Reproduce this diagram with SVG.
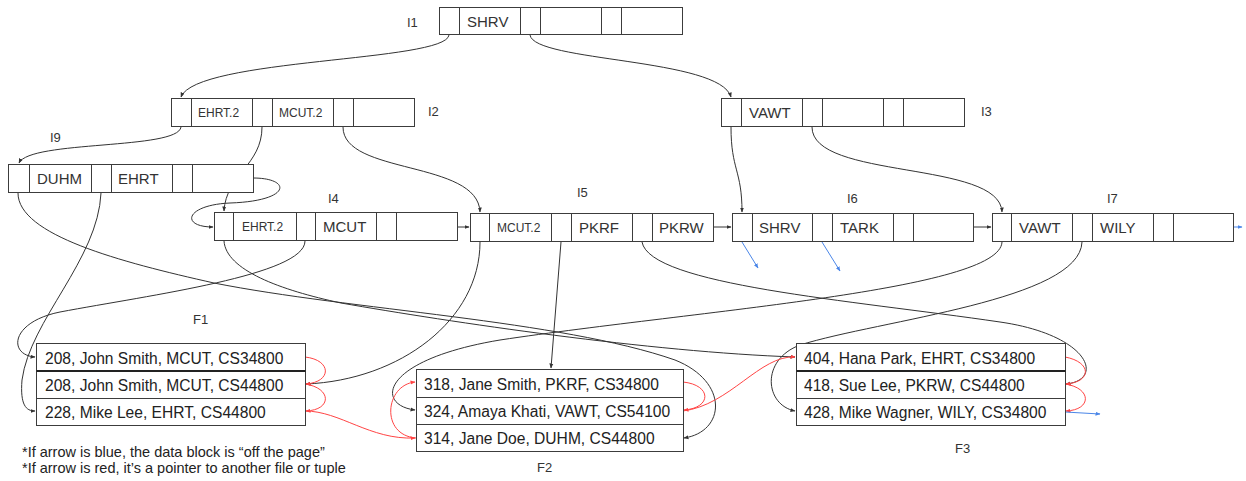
<svg xmlns="http://www.w3.org/2000/svg" width="1246" height="481" viewBox="0 0 1246 481">
<style>
.box{fill:#fff;stroke:#3c3c3c;stroke-width:1}
.div{stroke:#3c3c3c;stroke-width:1}
.thick{stroke:#222;stroke-width:2}
.k{font-family:"Liberation Sans",Arial,sans-serif;font-size:15px;fill:#333}
.ks{font-family:"Liberation Sans",Arial,sans-serif;font-size:12px;fill:#333}
.lbl{font-family:"Liberation Sans",Arial,sans-serif;font-size:13px;fill:#333}
.rec{font-family:"Liberation Sans",Arial,sans-serif;font-size:15.6px;fill:#222}
.note{font-family:"Liberation Sans",Arial,sans-serif;font-size:14.5px;fill:#222}
.c{fill:none;stroke:#333;stroke-width:1;marker-end:url(#ab)}
.r{fill:none;stroke:#f44;stroke-width:1;marker-end:url(#ar)}
.b{fill:none;stroke:#4a86e8;stroke-width:1;marker-end:url(#abl)}
</style>
<defs>
<marker id="ab" viewBox="0 0 10 10" refX="9" refY="5" markerWidth="5" markerHeight="5" markerUnits="userSpaceOnUse" orient="auto"><path d="M0,1 L10,5 L0,9 z" fill="#333"/></marker>
<marker id="ar" viewBox="0 0 10 10" refX="9" refY="5" markerWidth="5" markerHeight="5" markerUnits="userSpaceOnUse" orient="auto"><path d="M0,1 L10,5 L0,9 z" fill="#f44"/></marker>
<marker id="abl" viewBox="0 0 10 10" refX="9" refY="5" markerWidth="5" markerHeight="5" markerUnits="userSpaceOnUse" orient="auto"><path d="M0,1 L10,5 L0,9 z" fill="#4a86e8"/></marker>
</defs>
<rect width="1246" height="481" fill="#fff"/>

<g id="connectors">
<path class="c" d="M449,35 C446,62 196,58 181,97"/>
<path class="c" d="M530,35 C534,62 720,58 731,97"/>
<path class="c" d="M181,127 C178,150 30,140 19,163"/>
<path class="c" d="M262,127 C262,165 226,175 224,211"/>
<path class="c" d="M343,127 C343,175 478,160 480,212"/>
<path class="c" d="M731,127 C731,170 742,170 742,212"/>
<path class="c" d="M812,127 C812,180 1000,160 1002,212"/>
<path class="c" d="M253,178 C292,178 292,201 230,203 C185,205 180,227 213,227"/>
<path class="c" d="M457,227 L469,227"/>
<path class="c" d="M713,227 L731,227"/>
<path class="c" d="M973,227 L991,227"/>
<path class="b" d="M1233,227 L1242,227"/>
<path class="c" d="M18,193 C18,235 120,262 214,283 C350,310 560,320 675,360 C730,382 725,432 684,438"/>
<path class="c" d="M101,193 C98,260 30,320 22,380 C20,405 26,411 35,411"/>
<path class="c" d="M224,241 C226,270 280,290 341,303 C450,322 650,352 795,357"/>
<path class="c" d="M305,241 C305,275 150,295 60,312 C10,322 8,355 35,357"/>
<path class="c" d="M480,242 C480,320 400,380 306,384"/>
<path class="c" d="M561,242 L551,368"/>
<path class="c" d="M642,242 C650,285 850,300 1000,322 C1090,335 1105,380 1066,384"/>
<path class="c" d="M1002,242 C1000,290 700,310 500,340 C380,360 375,405 415,410"/>
<path class="c" d="M1082,242 C1080,300 880,320 800,345 C760,360 765,405 795,411"/>
<path class="b" d="M742,242 L758,268"/>
<path class="b" d="M822,242 L840,271"/>
<path class="r" d="M305,357 C332,360 332,382 306,384"/>
<path class="r" d="M305,384 C332,388 332,410 306,411"/>
<path class="r" d="M305,411 C340,411 370,440 415,438"/>
<path class="r" d="M416,438 C380,435 385,385 415,382"/>
<path class="r" d="M683,382 C712,385 712,408 684,410"/>
<path class="r" d="M683,411 C730,405 760,355 795,357"/>
<path class="r" d="M1065,357 C1092,362 1092,382 1066,384"/>
<path class="r" d="M1065,384 C1092,388 1092,410 1066,411"/>
<path class="b" d="M1065,412 L1100,414"/>
</g>

<g id="I1">
<rect class="box" x="439.5" y="7.5" width="243" height="27"/>
<path class="div" d="M459.5,7.5V34.5M520.5,7.5V34.5M540.5,7.5V34.5M601.5,7.5V34.5M621.5,7.5V34.5"/>
<text class="k" x="467" y="27">SHRV</text>
<text class="lbl" x="407" y="27">I1</text>
</g>
<g id="I2">
<rect class="box" x="171.5" y="98.5" width="243" height="28"/>
<path class="div" d="M191.5,98.5V126.5M252.5,98.5V126.5M272.5,98.5V126.5M333.5,98.5V126.5M353.5,98.5V126.5"/>
<text class="ks" x="198" y="117">EHRT.2</text>
<text class="ks" x="279" y="117">MCUT.2</text>
<text class="lbl" x="428" y="116">I2</text>
</g>
<g id="I3">
<rect class="box" x="721.5" y="98.5" width="243" height="28"/>
<path class="div" d="M741.5,98.5V126.5M802.5,98.5V126.5M822.5,98.5V126.5M883.5,98.5V126.5M903.5,98.5V126.5"/>
<text class="k" x="749" y="118">VAWT</text>
<text class="lbl" x="981" y="116">I3</text>
</g>
<g id="I9">
<rect class="box" x="8.5" y="164.5" width="245" height="28"/>
<path class="div" d="M29.5,164.5V192.5M91.5,164.5V192.5M111.5,164.5V192.5M172.5,164.5V192.5M192.5,164.5V192.5"/>
<text class="k" x="37" y="184">DUHM</text>
<text class="k" x="118" y="184">EHRT</text>
<text class="lbl" x="50" y="142">I9</text>
</g>
<g id="I4">
<rect class="box" x="214.5" y="212.5" width="243" height="28"/>
<path class="div" d="M233.5,212.5V240.5M296.5,212.5V240.5M315.5,212.5V240.5M376.5,212.5V240.5M396.5,212.5V240.5"/>
<text class="ks" x="242" y="231">EHRT.2</text>
<text class="k" x="323" y="232">MCUT</text>
<text class="lbl" x="328" y="203">I4</text>
</g>
<g id="I5">
<rect class="box" x="470.5" y="213.5" width="243" height="28"/>
<path class="div" d="M489.5,213.5V241.5M551.5,213.5V241.5M571.5,213.5V241.5M632.5,213.5V241.5M652.5,213.5V241.5"/>
<text class="ks" x="497" y="232">MCUT.2</text>
<text class="k" x="579" y="233">PKRF</text>
<text class="k" x="659" y="233">PKRW</text>
<text class="lbl" x="577" y="197">I5</text>
</g>
<g id="I6">
<rect class="box" x="732.5" y="213.5" width="241" height="28"/>
<path class="div" d="M752.5,213.5V241.5M812.5,213.5V241.5M832.5,213.5V241.5M893.5,213.5V241.5M913.5,213.5V241.5"/>
<text class="k" x="759" y="233">SHRV</text>
<text class="k" x="840" y="233">TARK</text>
<text class="lbl" x="847" y="203">I6</text>
</g>
<g id="I7">
<rect class="box" x="992.5" y="213.5" width="241" height="28"/>
<path class="div" d="M1011.5,213.5V241.5M1072.5,213.5V241.5M1092.5,213.5V241.5M1153.5,213.5V241.5M1173.5,213.5V241.5"/>
<text class="k" x="1019" y="233">VAWT</text>
<text class="k" x="1100" y="233">WILY</text>
<text class="lbl" x="1107" y="203">I7</text>
</g>

<g id="F1">
<rect class="box" x="36.5" y="343.5" width="269" height="82"/>
<path class="thick" d="M36.5,371H305.5"/>
<path class="div" d="M36.5,398.5H305.5"/>
<text class="rec" x="45" y="364">208, John Smith, MCUT, CS34800</text>
<text class="rec" x="45" y="391">208, John Smith, MCUT, CS44800</text>
<text class="rec" x="45" y="418">228, Mike Lee, EHRT, CS44800</text>
<text class="lbl" x="193" y="324">F1</text>
</g>
<g id="F2">
<rect class="box" x="416.5" y="369.5" width="267" height="82"/>
<path class="div" d="M416.5,397.5H683.5M416.5,424.5H683.5"/>
<text class="rec" x="424" y="390">318, Jane Smith, PKRF, CS34800</text>
<text class="rec" x="424" y="417">324, Amaya Khati, VAWT, CS54100</text>
<text class="rec" x="424" y="444">314, Jane Doe, DUHM, CS44800</text>
<text class="lbl" x="537" y="472">F2</text>
</g>
<g id="F3">
<rect class="box" x="796.5" y="343.5" width="269" height="82"/>
<path class="thick" d="M796.5,371H1065.5"/>
<path class="div" d="M796.5,398.5H1065.5"/>
<text class="rec" x="804" y="364">404, Hana Park, EHRT, CS34800</text>
<text class="rec" x="804" y="391">418, Sue Lee, PKRW, CS44800</text>
<text class="rec" x="804" y="418">428, Mike Wagner, WILY, CS34800</text>
<text class="lbl" x="955" y="453">F3</text>
</g>

<g id="notes">
<text class="note" x="22" y="457">*If arrow is blue, the data block is “off the page”</text>
<text class="note" x="22" y="473">*If arrow is red, it’s a pointer to another file or tuple</text>
</g>
</svg>
